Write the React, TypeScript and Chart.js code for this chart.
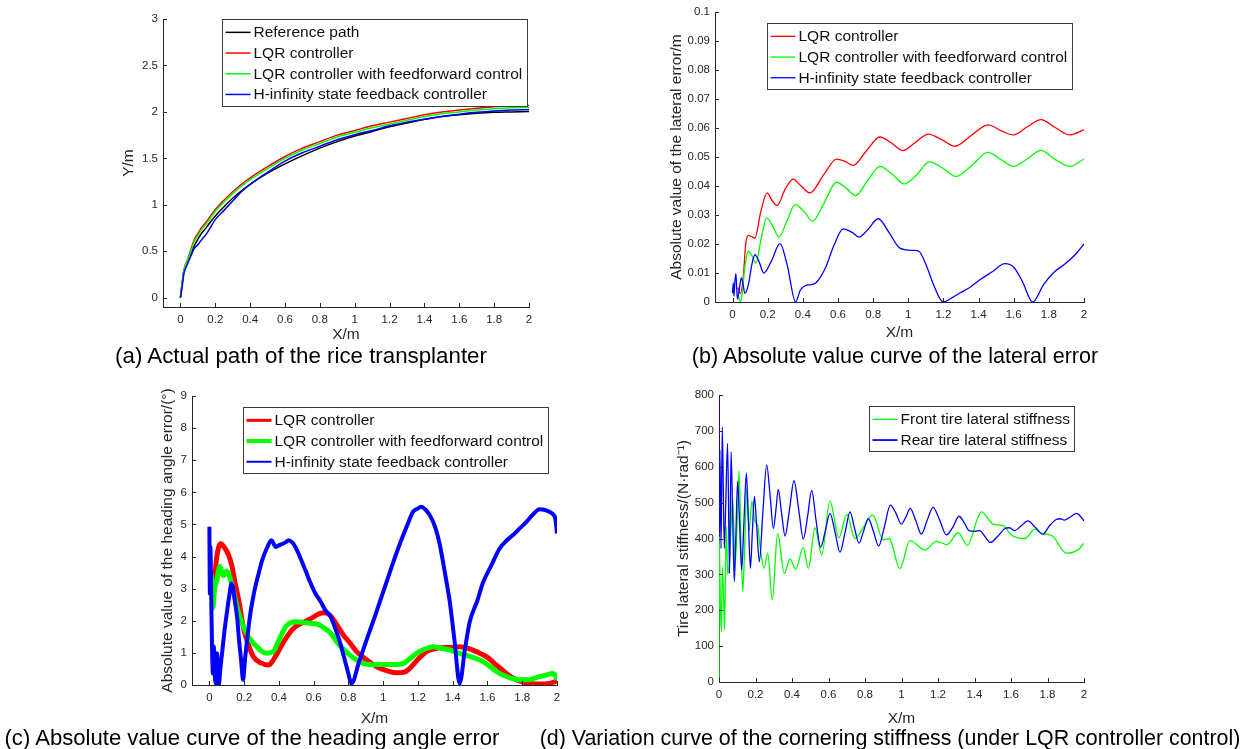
import React, { useEffect, useRef } from 'react';
import { Chart, registerables } from 'chart.js';
Chart.register(...registerables);

// ---------------- data ----------------
// (a) actual path
const pathX = [0, 0.01, 0.02, 0.04, 0.06, 0.08, 0.1, 0.12, 0.15, 0.2, 0.25, 0.3, 0.35, 0.4, 0.5, 0.6, 0.7, 0.8, 0.9, 1.0, 1.1, 1.2, 1.3, 1.4, 1.5, 1.6, 1.7, 1.8, 1.9, 2.0];
const pathRef = [0, 0.15, 0.28, 0.38, 0.47, 0.56, 0.63, 0.69, 0.76, 0.88, 0.98, 1.07, 1.15, 1.22, 1.34, 1.44, 1.53, 1.61, 1.68, 1.74, 1.79, 1.84, 1.88, 1.92, 1.95, 1.97, 1.985, 1.995, 2.0, 2.005];
const pathLqr = [0, 0.17, 0.3, 0.41, 0.52, 0.63, 0.69, 0.75, 0.82, 0.95, 1.05, 1.14, 1.22, 1.29, 1.41, 1.52, 1.61, 1.68, 1.75, 1.8, 1.85, 1.89, 1.93, 1.97, 2.0, 2.02, 2.04, 2.055, 2.065, 2.07];
const pathLqrFf = [0, 0.16, 0.29, 0.4, 0.5, 0.61, 0.67, 0.73, 0.8, 0.93, 1.03, 1.12, 1.2, 1.27, 1.39, 1.5, 1.59, 1.66, 1.73, 1.78, 1.83, 1.87, 1.91, 1.95, 1.98, 2.0, 2.02, 2.035, 2.045, 2.05];
const pathHinf = [0, 0.12, 0.26, 0.36, 0.45, 0.53, 0.57, 0.62, 0.69, 0.84, 0.94, 1.04, 1.14, 1.22, 1.35, 1.47, 1.56, 1.63, 1.7, 1.755, 1.8, 1.85, 1.89, 1.92, 1.95, 1.975, 1.995, 2.01, 2.02, 2.025];

// (b) lateral error
const latLqrX = [0.03, 0.045, 0.06, 0.075, 0.089, 0.11, 0.127, 0.16, 0.197, 0.225, 0.254, 0.3, 0.345, 0.39, 0.44, 0.52, 0.592, 0.64, 0.687, 0.76, 0.839, 0.9, 0.97, 1.04, 1.114, 1.19, 1.266, 1.36, 1.455, 1.53, 1.598, 1.68, 1.755, 1.84, 1.92, 2.0];
const latLqrY = [0.005, 0.003, 0.008, 0.02, 0.023, 0.0225, 0.022, 0.031, 0.0376, 0.035, 0.0333, 0.039, 0.0424, 0.04, 0.0376, 0.044, 0.0493, 0.0485, 0.0471, 0.052, 0.0569, 0.055, 0.0522, 0.055, 0.0579, 0.056, 0.0537, 0.0575, 0.0611, 0.059, 0.0576, 0.0605, 0.0629, 0.06, 0.0576, 0.0594];
const latFfX = [0.035, 0.045, 0.055, 0.07, 0.089, 0.11, 0.133, 0.16, 0.194, 0.23, 0.264, 0.31, 0.355, 0.41, 0.455, 0.52, 0.592, 0.65, 0.7, 0.77, 0.839, 0.91, 0.977, 1.05, 1.12, 1.2, 1.271, 1.36, 1.452, 1.53, 1.598, 1.68, 1.755, 1.84, 1.92, 2.0];
const latFfY = [0.002, 0.0, 0.003, 0.012, 0.0175, 0.016, 0.0134, 0.021, 0.029, 0.026, 0.0224, 0.028, 0.0336, 0.031, 0.0278, 0.034, 0.0413, 0.039, 0.0367, 0.042, 0.0468, 0.044, 0.0407, 0.044, 0.0483, 0.046, 0.0433, 0.047, 0.0516, 0.049, 0.0468, 0.0495, 0.0523, 0.049, 0.0468, 0.0493];
const latHinfX = [0, 0.004, 0.008, 0.013, 0.019, 0.024, 0.028, 0.035, 0.042, 0.05, 0.06, 0.07, 0.09, 0.11, 0.127, 0.15, 0.178, 0.22, 0.27, 0.31, 0.359, 0.385, 0.412, 0.45, 0.478, 0.53, 0.58, 0.63, 0.68, 0.72, 0.77, 0.829, 0.89, 0.952, 1.028, 1.06, 1.1, 1.15, 1.199, 1.25, 1.294, 1.35, 1.408, 1.48, 1.55, 1.6, 1.65, 1.708, 1.77, 1.825, 1.9, 1.96, 2.0];
const latHinfY = [0.003, 0.0066, 0.002, 0.007, 0.0098, 0.004, 0.001, 0.003, 0.006, 0.0083, 0.006, 0.003, 0.006, 0.013, 0.0163, 0.014, 0.01, 0.014, 0.0201, 0.013, 0.0, 0.004, 0.0056, 0.006, 0.0068, 0.012, 0.02, 0.0252, 0.024, 0.0224, 0.025, 0.0287, 0.024, 0.0186, 0.0178, 0.0175, 0.013, 0.005, 0.0, 0.0015, 0.0031, 0.005, 0.0077, 0.0105, 0.0132, 0.012, 0.007, 0.0, 0.006, 0.01, 0.0135, 0.017, 0.02];

// (c) heading angle error
const headLqrX = [0.01, 0.015, 0.025, 0.04, 0.065, 0.085, 0.11, 0.13, 0.147, 0.17, 0.195, 0.225, 0.253, 0.3, 0.34, 0.37, 0.406, 0.44, 0.483, 0.52, 0.56, 0.6, 0.636, 0.665, 0.693, 0.73, 0.77, 0.81, 0.847, 0.9, 0.962, 1.02, 1.077, 1.12, 1.153, 1.2, 1.249, 1.29, 1.326, 1.38, 1.44, 1.49, 1.536, 1.6, 1.651, 1.7, 1.747, 1.8, 1.843, 1.9, 1.958, 1.985, 2.0];
const headLqrY = [2.9, 3.4, 3.0, 3.9, 4.4, 4.3, 4.05, 3.7, 3.2, 2.6, 1.8, 1.25, 0.88, 0.68, 0.62, 0.8, 1.14, 1.45, 1.76, 1.9, 2.0, 2.12, 2.23, 2.25, 2.18, 1.9, 1.56, 1.3, 1.04, 0.8, 0.57, 0.45, 0.38, 0.4, 0.52, 0.8, 1.04, 1.12, 1.16, 1.17, 1.19, 1.14, 1.04, 0.86, 0.62, 0.4, 0.21, 0.1, 0.05, 0.03, 0.05, 0.1, 0.12];
const headFfX = [0.005, 0.012, 0.02, 0.03, 0.045, 0.06, 0.08, 0.1, 0.115, 0.135, 0.16, 0.19, 0.215, 0.245, 0.275, 0.3, 0.33, 0.368, 0.4, 0.444, 0.5, 0.54, 0.579, 0.62, 0.655, 0.7, 0.732, 0.77, 0.808, 0.85, 0.885, 0.94, 1.0, 1.06, 1.115, 1.15, 1.192, 1.24, 1.287, 1.33, 1.383, 1.42, 1.46, 1.52, 1.575, 1.62, 1.67, 1.73, 1.785, 1.83, 1.881, 1.93, 1.977, 1.99, 2.0];
const headFfY = [3.3, 3.4, 2.4, 3.0, 3.3, 3.7, 3.4, 3.55, 3.4, 3.0, 2.4, 1.9, 1.6, 1.35, 1.19, 1.05, 0.99, 1.04, 1.4, 1.85, 1.97, 1.95, 1.92, 1.9, 1.8, 1.6, 1.35, 1.12, 0.93, 0.77, 0.67, 0.63, 0.64, 0.64, 0.67, 0.8, 0.99, 1.12, 1.19, 1.15, 1.09, 1.02, 0.95, 0.85, 0.73, 0.55, 0.36, 0.22, 0.16, 0.16, 0.23, 0.3, 0.36, 0.3, 0.16];
const headHinfX = [0, 0.003, 0.006, 0.009, 0.012, 0.016, 0.02, 0.025, 0.03, 0.038, 0.044, 0.049, 0.054, 0.063, 0.073, 0.085, 0.1, 0.115, 0.127, 0.137, 0.146, 0.16, 0.169, 0.182, 0.194, 0.205, 0.217, 0.235, 0.256, 0.28, 0.304, 0.33, 0.357, 0.37, 0.38, 0.4, 0.419, 0.44, 0.456, 0.475, 0.495, 0.52, 0.552, 0.58, 0.61, 0.64, 0.667, 0.7, 0.725, 0.75, 0.773, 0.795, 0.818, 0.86, 0.904, 0.95, 1.0, 1.05, 1.096, 1.14, 1.172, 1.2, 1.22, 1.245, 1.268, 1.3, 1.326, 1.355, 1.383, 1.41, 1.44, 1.47, 1.498, 1.54, 1.575, 1.62, 1.67, 1.71, 1.747, 1.79, 1.824, 1.86, 1.9, 1.93, 1.958, 1.98, 1.99, 2.0];
const headHinfY = [4.93, 2.85, 4.3, 3.47, 2.2, 0.99, 0.36, 1.2, 0.4, 0.05, 0.99, 0.5, 0.0, 0.5, 0.99, 1.6, 2.23, 2.8, 3.16, 3.0, 2.64, 2.1, 1.5, 0.8, 0.16, 0.8, 1.4, 2.2, 2.85, 3.4, 3.89, 4.25, 4.51, 4.4, 4.3, 4.35, 4.39, 4.45, 4.51, 4.45, 4.3, 4.0, 3.58, 3.2, 2.85, 2.6, 2.33, 2.1, 1.75, 1.35, 0.9, 0.45, 0.05, 0.7, 1.4, 2.1, 2.9, 3.7, 4.4, 5.0, 5.4, 5.5, 5.55, 5.45, 5.29, 4.9, 4.36, 3.5, 2.59, 1.4, 0.05, 1.1, 1.97, 2.6, 3.2, 3.7, 4.25, 4.5, 4.67, 4.9, 5.08, 5.3, 5.47, 5.45, 5.39, 5.3, 5.19, 4.72];

// (d) cornering stiffness
const frontX = [0, 0.001, 0.007, 0.013, 0.018, 0.024, 0.03, 0.04, 0.048, 0.056, 0.065, 0.075, 0.088, 0.1, 0.11, 0.12, 0.13, 0.141, 0.152, 0.165, 0.18, 0.197, 0.21, 0.225, 0.247, 0.267, 0.292, 0.321, 0.358, 0.389, 0.42, 0.462, 0.49, 0.526, 0.563, 0.608, 0.657, 0.7, 0.745, 0.79, 0.842, 0.9, 0.933, 0.991, 1.046, 1.128, 1.192, 1.25, 1.311, 1.36, 1.438, 1.502, 1.557, 1.603, 1.676, 1.73, 1.768, 1.822, 1.905, 1.969, 2.0];
const frontY = [10, 405, 224, 140, 320, 260, 145, 433, 300, 330, 420, 512, 326, 450, 588, 400, 252, 380, 540, 420, 504, 447, 440, 380, 317, 359, 229, 414, 303, 343, 314, 375, 317, 430, 354, 505, 402, 467, 400, 430, 466, 396, 400, 316, 394, 368, 392, 383, 416, 381, 474, 440, 436, 409, 400, 426, 414, 409, 359, 369, 387];
const rearX = [0, 0.002, 0.005, 0.011, 0.018, 0.029, 0.038, 0.047, 0.058, 0.066, 0.075, 0.084, 0.093, 0.102, 0.113, 0.124, 0.137, 0.15, 0.161, 0.172, 0.183, 0.194, 0.207, 0.221, 0.24, 0.261, 0.28, 0.298, 0.312, 0.325, 0.343, 0.362, 0.386, 0.411, 0.437, 0.462, 0.485, 0.508, 0.532, 0.557, 0.582, 0.608, 0.635, 0.663, 0.69, 0.718, 0.742, 0.767, 0.792, 0.818, 0.846, 0.875, 0.905, 0.939, 0.97, 0.999, 1.024, 1.048, 1.078, 1.109, 1.14, 1.173, 1.21, 1.246, 1.28, 1.315, 1.343, 1.37, 1.4, 1.428, 1.458, 1.487, 1.525, 1.565, 1.592, 1.62, 1.655, 1.693, 1.735, 1.775, 1.81, 1.848, 1.87, 1.893, 1.925, 1.96, 1.98, 2.0];
const rearY = [800, 420, 647, 372, 711, 372, 520, 665, 303, 642, 460, 280, 420, 560, 440, 312, 450, 582, 450, 317, 420, 517, 430, 335, 470, 605, 520, 428, 480, 537, 470, 407, 480, 561, 480, 399, 460, 534, 450, 375, 420, 470, 420, 362, 415, 474, 430, 387, 420, 455, 420, 379, 430, 493, 470, 440, 460, 484, 450, 412, 450, 487, 450, 410, 430, 462, 445, 422, 420, 422, 405, 389, 405, 427, 430, 422, 435, 449, 430, 412, 435, 453, 455, 451, 460, 470, 462, 449];

// ticks
const xTicks = [0, 0.2, 0.4, 0.6, 0.8, 1, 1.2, 1.4, 1.6, 1.8, 2];
const yTicksA = [0, 0.5, 1, 1.5, 2, 2.5, 3];
const yTicksB = [0, 0.01, 0.02, 0.03, 0.04, 0.05, 0.06, 0.07, 0.08, 0.09, 0.1];
const yTicksC = [0, 1, 2, 3, 4, 5, 6, 7, 8, 9];
const yTicksD = [0, 100, 200, 300, 400, 500, 600, 700, 800];

// labels
const lblRef = 'Reference path';
const lblLqr = 'LQR controller';
const lblFf = 'LQR controller with feedforward control';
const lblHinf = 'H-infinity state feedback controller';
const lblFront = 'Front tire lateral stiffness';
const lblRear = 'Rear tire lateral stiffness';

// ---------------- styling ----------------
const FONT = "'Liberation Sans', Arial, Helvetica, sans-serif";
const TXT = '#262626';
const TITLE_SIZE = 15.5;
const TITLE_LH = TITLE_SIZE * 1.2;

const pts = (xs: number[], ys: number[]) => xs.map((x, i) => ({ x, y: ys[i] }));

type Ser = { label: string; xs: number[]; ys: number[]; color: string; width: number; legendWidth: number; order: number };
type Spec = {
  area: { l: number; t: number; r: number; b: number };
  xMin: number; xMax: number; yMin: number; yMax: number;
  yTicks: number[];
  yTitle: string; yTitleX: number; xTitleY: number;
  series: Ser[];
  legend: { x: number; y: number };
  caption: string; cx: number; cy: number; cSize: number;
};

const specs: Spec[] = [
  {
    area: { l: 163, t: 19, r: 529, b: 307 }, xMin: -0.1, xMax: 2, yMin: -0.1, yMax: 3, yTicks: yTicksA,
    yTitle: 'Y/m', yTitleX: 128, xTitleY: 335,
    series: [
      { label: lblRef, xs: pathX, ys: pathRef, color: '#000000', width: 1.5, legendWidth: 1.5, order: 3 },
      { label: lblLqr, xs: pathX, ys: pathLqr, color: '#ff0000', width: 1.5, legendWidth: 1.5, order: 2 },
      { label: lblFf, xs: pathX, ys: pathLqrFf, color: '#00ff00', width: 1.5, legendWidth: 1.5, order: 1 },
      { label: lblHinf, xs: pathX, ys: pathHinf, color: '#0000ff', width: 1.5, legendWidth: 1.5, order: 0 },
    ],
    legend: { x: 222, y: 19 },
    caption: '(a) Actual path of the rice transplanter', cx: 301, cy: 356, cSize: 22.3,
  },
  {
    area: { l: 715, t: 12, r: 1084, b: 302 }, xMin: -0.1, xMax: 2, yMin: 0, yMax: 0.1, yTicks: yTicksB,
    yTitle: 'Absolute value of the lateral error/m', yTitleX: 676, xTitleY: 333,
    series: [
      { label: lblLqr, xs: latLqrX, ys: latLqrY, color: '#ff0000', width: 1.3, legendWidth: 1.3, order: 2 },
      { label: lblFf, xs: latFfX, ys: latFfY, color: '#00ff00', width: 1.3, legendWidth: 1.3, order: 1 },
      { label: lblHinf, xs: latHinfX, ys: latHinfY, color: '#0000ff', width: 1.3, legendWidth: 1.3, order: 0 },
    ],
    legend: { x: 767, y: 23 },
    caption: '(b) Absolute value curve of the lateral error', cx: 895, cy: 356, cSize: 21.5,
  },
  {
    area: { l: 192, t: 396, r: 557, b: 685 }, xMin: -0.1, xMax: 2, yMin: 0, yMax: 9, yTicks: yTicksC,
    yTitle: 'Absolute value of the heading angle error/(°)', yTitleX: 167, xTitleY: 719,
    series: [
      { label: lblLqr, xs: headLqrX, ys: headLqrY, color: '#ff0000', width: 5, legendWidth: 3, order: 2 },
      { label: lblFf, xs: headFfX, ys: headFfY, color: '#00ff00', width: 5, legendWidth: 4, order: 1 },
      { label: lblHinf, xs: headHinfX, ys: headHinfY, color: '#0000ff', width: 4, legendWidth: 2, order: 0 },
    ],
    legend: { x: 243, y: 407 },
    caption: '(c) Absolute value curve of the heading angle error', cx: 252, cy: 738, cSize: 22.1,
  },
  {
    area: { l: 719, t: 395, r: 1084, b: 682 }, xMin: 0, xMax: 2, yMin: 0, yMax: 800, yTicks: yTicksD,
    yTitle: 'Tire lateral stiffness/(N·rad⁻¹)', yTitleX: 683, xTitleY: 719,
    series: [
      { label: lblFront, xs: frontX, ys: frontY, color: '#00ff00', width: 1.3, legendWidth: 1.3, order: 1 },
      { label: lblRear, xs: rearX, ys: rearY, color: '#0000ff', width: 1.3, legendWidth: 1.8, order: 0 },
    ],
    legend: { x: 869, y: 406 },
    caption: '(d) Variation curve of the cornering stiffness (under LQR controller control)', cx: 890, cy: 738, cSize: 21.4,
  },
];

// ---------------- plugins ----------------
const innerTicks = {
  id: 'innerTicks',
  afterDatasetsDraw(chart: any) {
    const { ctx, chartArea: a, scales } = chart;
    ctx.save();
    ctx.strokeStyle = TXT;
    ctx.lineWidth = 1;
    ctx.beginPath();
    scales.x.ticks.forEach((t: any) => {
      const px = Math.round(scales.x.getPixelForValue(t.value)) + 0.5;
      ctx.moveTo(px, a.bottom);
      ctx.lineTo(px, a.bottom - 4);
    });
    scales.y.ticks.forEach((t: any) => {
      const py = Math.round(scales.y.getPixelForValue(t.value)) + 0.5;
      ctx.moveTo(a.left, py);
      ctx.lineTo(a.left + 4, py);
    });
    ctx.stroke();
    ctx.restore();
  },
};

const boxLegend = {
  id: 'boxLegend',
  afterDatasetsDraw(chart: any, _args: any, opts: any) {
    if (!opts || opts.x === undefined) return;
    const { ctx } = chart;
    const ds = chart.data.datasets;
    ctx.save();
    ctx.font = `${TITLE_SIZE}px ${FONT}`;
    let maxW = 0;
    ds.forEach((d: any) => { maxW = Math.max(maxW, ctx.measureText(d.label).width); });
    const rowH = 20.7;
    const x = Math.round(opts.x) + 0.5;
    const y = Math.round(opts.y) + 0.5;
    const w = Math.round(31 + maxW + 5);
    const h = Math.round(2.5 + rowH * ds.length + 1.5);
    ctx.fillStyle = '#ffffff';
    ctx.fillRect(x, y, w, h);
    ctx.strokeStyle = '#3a3a3a';
    ctx.lineWidth = 1;
    ctx.strokeRect(x, y, w, h);
    ds.forEach((d: any, i: number) => {
      const cy = y + 2.5 + rowH * (i + 0.5);
      ctx.strokeStyle = d.borderColor;
      ctx.lineWidth = d.legendWidth || 1.5;
      ctx.beginPath();
      ctx.moveTo(x + 3, cy);
      ctx.lineTo(x + 28, cy);
      ctx.stroke();
      ctx.fillStyle = '#111111';
      ctx.textBaseline = 'middle';
      ctx.textAlign = 'left';
      ctx.fillText(d.label, x + 31, cy + 0.5);
    });
    ctx.restore();
  },
};

// ---------------- components ----------------
function Panel({ spec }: { spec: Spec }) {
  const ref = useRef<HTMLCanvasElement | null>(null);
  const { area } = spec;
  const canvasLeft = Math.round(spec.yTitleX - TITLE_LH / 2);
  const padTop = 12;
  const padRight = 12;
  const canvasTop = area.t - padTop;
  const canvasRight = area.r + padRight;
  const canvasBottom = Math.round(spec.xTitleY + TITLE_LH / 2);
  const cw = canvasRight - canvasLeft;
  const ch = canvasBottom - canvasTop;
  const yAxisW = area.l - canvasLeft;
  const xAxisH = canvasBottom - area.b;

  useEffect(() => {
    if (!ref.current) return;
    const chart = new Chart(ref.current, {
      type: 'line',
      data: {
        datasets: spec.series.map((s) => ({
          label: s.label,
          data: pts(s.xs, s.ys),
          borderColor: s.color,
          backgroundColor: s.color,
          borderWidth: s.width,
          pointRadius: 0,
          fill: false,
          cubicInterpolationMode: 'monotone',
          order: s.order,
          legendWidth: s.legendWidth,
        })) as any,
      },
      options: {
        responsive: false,
        animation: false,
        devicePixelRatio: 1,
        events: [],
        layout: { padding: { left: 0, top: padTop, right: padRight, bottom: 0 } },
        plugins: {
          legend: { display: false },
          tooltip: { enabled: false },
          boxLegend: { x: spec.legend.x - canvasLeft, y: spec.legend.y - canvasTop },
        } as any,
        scales: {
          x: {
            type: 'linear',
            min: spec.xMin,
            max: spec.xMax,
            afterBuildTicks: (s: any) => { s.ticks = xTicks.map((v) => ({ value: v })); },
            afterFit: (s: any) => { s.height = xAxisH; },
            grid: { display: false, drawTicks: false },
            border: { display: true, color: TXT, width: 1 },
            ticks: { color: TXT, font: { family: FONT, size: 11.5 }, padding: 6, maxRotation: 0, autoSkip: false, callback: (v: any) => String(v) },
            title: { display: true, text: 'X/m', color: TXT, font: { family: FONT, size: TITLE_SIZE }, padding: 0 },
          },
          y: {
            type: 'linear',
            min: spec.yMin,
            max: spec.yMax,
            afterBuildTicks: (s: any) => { s.ticks = spec.yTicks.map((v) => ({ value: v })); },
            afterFit: (s: any) => { s.width = yAxisW; },
            grid: { display: false, drawTicks: false },
            border: { display: true, color: TXT, width: 1 },
            ticks: { color: TXT, font: { family: FONT, size: 11.5 }, padding: 5, autoSkip: false, callback: (v: any) => String(v) },
            title: { display: true, text: spec.yTitle, color: TXT, font: { family: FONT, size: TITLE_SIZE }, padding: 0 },
          },
        },
      },
      plugins: [innerTicks, boxLegend],
    } as any);
    return () => chart.destroy();
  }, []);

  return (
    <>
      <canvas
        ref={ref}
        width={cw}
        height={ch}
        style={{ position: 'absolute', left: canvasLeft, top: canvasTop, width: cw, height: ch }}
      />
      <div
        style={{
          position: 'absolute',
          left: spec.cx - 400,
          top: spec.cy - 12,
          width: 800,
          height: 24,
          lineHeight: '24px',
          textAlign: 'center',
          fontFamily: FONT,
          fontSize: spec.cSize,
          color: '#000',
          whiteSpace: 'nowrap',
        }}
      >
        {spec.caption}
      </div>
    </>
  );
}

export default function App() {
  return (
    <div style={{ position: 'absolute', left: 0, top: 0, width: 1250, height: 749, background: '#fff', overflow: 'hidden' }}>
      {specs.map((s, i) => (
        <Panel key={i} spec={s} />
      ))}
    </div>
  );
}
